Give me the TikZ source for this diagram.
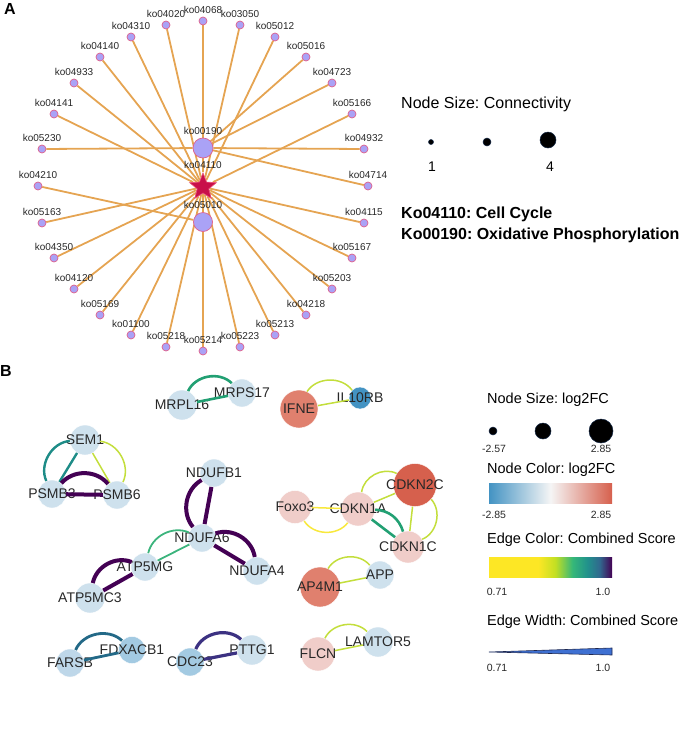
\documentclass[tikz,border=0pt]{standalone}
\usepackage{fontspec}
\setmainfont{Liberation Sans}
\usetikzlibrary{shapes.geometric,backgrounds}
\frenchspacing

\definecolor{pathedge}{RGB}{229,164,82}
\definecolor{pathfill}{RGB}{170,162,246}
\definecolor{pathrim}{RGB}{222,96,140}
\definecolor{starfill}{RGB}{200,16,74}
\definecolor{starrim}{RGB}{232,80,120}
\definecolor{inktext}{RGB}{40,40,40}
\definecolor{genelight}{RGB}{206,225,237}
\definecolor{genesky}{RGB}{190,215,233}
\definecolor{genemid}{RGB}{163,202,226}
\definecolor{genedeep}{RGB}{67,147,195}
\definecolor{geneblush}{RGB}{240,205,201}
\definecolor{generose}{RGB}{224,128,110}
\definecolor{genered}{RGB}{214,96,77}
\definecolor{neutralmid}{RGB}{245,245,245}
\definecolor{vyel}{RGB}{253,231,37}
\definecolor{vlime}{RGB}{194,223,35}
\definecolor{vgreen}{RGB}{53,183,121}
\definecolor{vteal}{RGB}{33,145,140}
\definecolor{vblue}{RGB}{49,104,142}
\definecolor{vpurp}{RGB}{68,1,84}
\definecolor{wedgefill}{RGB}{62,112,210}

\pgfdeclarehorizontalshading{viridisbar}{100bp}{color(0bp)=(vyel); color(25bp)=(vyel); color(45bp)=(vyel); color(52bp)=(vlime); color(59bp)=(vgreen); color(65bp)=(vteal); color(70bp)=(vblue); color(75bp)=(vpurp); color(100bp)=(vpurp)}
\pgfdeclarehorizontalshading{foldbar}{100bp}{color(0bp)=(genedeep); color(25bp)=(genedeep); color(50bp)=(neutralmid); color(75bp)=(genered); color(100bp)=(genered)}

\tikzset{
  every label/.style={font=\fontsize{10}{12}\selectfont,text=inktext,inner sep=3.3pt},
  kegg/.style={shape=circle,draw=pathrim,fill=pathfill,line width=0.7pt,minimum size=8pt,inner sep=0pt,label distance=-1.5pt},
  hub/.style={kegg,minimum size=20pt,label distance=-1pt},
  cellcycle/.style={shape=star,star points=5,star point ratio=2.3,minimum size=28pt,inner sep=0pt,fill=starfill,draw=starrim,line width=0.7pt},
  link/.style={draw=pathedge,line width=1.8pt},
  gene/.style={shape=circle,draw=white,line width=0.4pt,inner sep=0pt},
  genelabel/.style={font=\fontsize{14}{16}\selectfont,text=inktext,inner sep=0pt},
  scoretop/.style={draw=vpurp,line width=4pt},
  scoredeep/.style={draw={rgb,255:red,60;green,50;blue,130},line width=3.2pt},
  scoreblue/.style={draw={rgb,255:red,35;green,105;blue,135},line width=2.8pt},
  scoreteal/.style={draw={rgb,255:red,30;green,140;blue,135},line width=2.4pt},
  scoregreen/.style={draw={rgb,255:red,34;green,160;blue,115},line width=2.6pt},
  scorelight/.style={draw={rgb,255:red,60;green,180;blue,125},line width=1.8pt},
  scorelime/.style={draw={rgb,255:red,195;green,222;blue,60},line width=1.5pt},
  scoreyellow/.style={draw={rgb,255:red,248;green,232;blue,60},line width=1.5pt},
  legendtitle/.style={anchor=west,inner sep=0pt,font=\fontsize{14.5}{17}\selectfont},
  legendbig/.style={anchor=west,inner sep=0pt,font=\fontsize{16}{19}\selectfont},
  legendtick/.style={inner sep=0pt,font=\fontsize{10.5}{12}\selectfont,text=inktext},
  sizedot/.style={shape=circle,fill=black,draw={rgb,255:red,20;green,40;blue,70},line width=0.5pt,inner sep=0pt},
  panel/.style={inner sep=0pt,font=\fontsize{16}{19}\selectfont\bfseries}
}

\begin{document}
\begin{tikzpicture}[x=1pt,y=-1pt]
	\useasboundingbox (0,0) rectangle (685,729);

	% panel A
	\node[panel] (panela) at (10, 9) {A};

	\node[hub] (ko00190) at (203, 148) [label={above:ko00190}] {};
	\node[hub,minimum size=19pt,label distance=-2.5pt] (ko05010) at (203, 222) [label={above:ko05010}] {};
	\node[cellcycle] (ko04110) at (203, 187) [label={above:ko04110}] {};

	\node[kegg] (ko04068) at (203, 21)  [label={above:ko04068}] {};
	\node[kegg] (ko04020) at (166, 25)  [label={above:ko04020}] {};
	\node[kegg] (ko04310) at (131, 37)  [label={above:ko04310}] {};
	\node[kegg] (ko04140) at (100, 57)  [label={above:ko04140}] {};
	\node[kegg] (ko04933) at (74, 83)   [label={above:ko04933}] {};
	\node[kegg] (ko04141) at (54, 114)  [label={above:ko04141}] {};
	\node[kegg] (ko05230) at (42, 149)  [label={above:ko05230}] {};
	\node[kegg] (ko04210) at (38, 186)  [label={above:ko04210}] {};
	\node[kegg] (ko05163) at (42, 223)  [label={above:ko05163}] {};
	\node[kegg] (ko04350) at (54, 258)  [label={above:ko04350}] {};
	\node[kegg] (ko04120) at (74, 289)  [label={above:ko04120}] {};
	\node[kegg] (ko05169) at (100, 315) [label={above:ko05169}] {};
	\node[kegg] (ko01100) at (131, 335) [label={above:ko01100}] {};
	\node[kegg] (ko05218) at (166, 347) [label={above:ko05218}] {};
	\node[kegg] (ko05214) at (203, 351) [label={above:ko05214}] {};
	\node[kegg] (ko05223) at (240, 347) [label={above:ko05223}] {};
	\node[kegg] (ko05213) at (275, 335) [label={above:ko05213}] {};
	\node[kegg] (ko04218) at (306, 315) [label={above:ko04218}] {};
	\node[kegg] (ko05203) at (332, 289) [label={above:ko05203}] {};
	\node[kegg] (ko05167) at (352, 258) [label={above:ko05167}] {};
	\node[kegg] (ko04115) at (364, 223) [label={above:ko04115}] {};
	\node[kegg] (ko04714) at (368, 186) [label={above:ko04714}] {};
	\node[kegg] (ko04932) at (364, 149) [label={above:ko04932}] {};
	\node[kegg] (ko05166) at (352, 114) [label={above:ko05166}] {};
	\node[kegg] (ko04723) at (332, 83)  [label={above:ko04723}] {};
	\node[kegg] (ko05016) at (306, 57)  [label={above:ko05016}] {};
	\node[kegg] (ko05012) at (275, 37)  [label={above:ko05012}] {};
	\node[kegg] (ko03050) at (240, 25)  [label={above:ko03050}] {};

	\begin{scope}[on background layer]
	\path[link] (ko04110) edge (ko00190) edge (ko05010)
		edge (ko04020) edge (ko03050) edge (ko04310) edge (ko05012)
		edge (ko04140) edge (ko04933) edge (ko04141) edge (ko05166)
		edge (ko05163) edge (ko04115) edge (ko04350) edge (ko05167)
		edge (ko04120) edge (ko05203) edge (ko05169) edge (ko04218)
		edge (ko01100) edge (ko05213) edge (ko05218) edge (ko05223);
	\path[link] (ko00190) edge (ko04068) edge (ko05230) edge (ko04932)
		edge (ko04714) edge (ko05016) edge (ko04723);
	\path[link] (ko05010) edge (ko05214) edge (ko04210);
	\end{scope}

	% legend A
	\node[legendbig] (connectivity) at (401, 104) {Node Size: Connectivity};
	\node[sizedot,minimum size=5pt]  (connone) at (431, 142) {};
	\node[sizedot,minimum size=8pt]  (conntwo) at (487, 142) {};
	\node[sizedot,minimum size=16pt] (connfour) at (548, 140) {};
	\node[inner sep=0pt,font=\fontsize{14}{16}\selectfont] (connlow) at (432, 167) {1};
	\node[inner sep=0pt,font=\fontsize{14}{16}\selectfont] (connhigh) at (550, 167) {4};
	\node[legendbig,font=\fontsize{16}{19}\selectfont\bfseries] (keycycle) at (401, 214) {Ko04110: Cell Cycle};
	\node[legendbig,font=\fontsize{16}{19}\selectfont\bfseries] (keyoxphos) at (401, 235) {Ko00190: Oxidative Phosphorylation};

	% panel B
	\node[panel] (panelb) at (6, 371) {B};

	\node[gene,fill=genelight,minimum size=30pt] (mrpl16) at (182, 405) [label={[genelabel]center:MRPL16}] {};
	\node[gene,fill=genelight,minimum size=28pt] (mrps17) at (242, 393) [label={[genelabel]center:MRPS17}] {};
	\node[gene,fill=generose,minimum size=38pt] (ifne) at (299, 409) [label={[genelabel]center:IFNE}] {};
	\node[gene,fill=genedeep,minimum size=22pt] (il10rb) at (360, 398) [label={[genelabel]center:IL10RB}] {};

	\node[gene,fill=genelight,minimum size=30pt] (sem1) at (85, 440) [label={[genelabel]center:SEM1}] {};
	\node[gene,fill=genelight,minimum size=28pt] (psmb3) at (52, 494) [label={[genelabel]center:PSMB3}] {};
	\node[gene,fill=genelight,minimum size=28pt] (psmb6) at (117, 495) [label={[genelabel]center:PSMB6}] {};

	\node[gene,fill=genelight,minimum size=28pt] (ndufb1) at (214, 473) [label={[genelabel]center:NDUFB1}] {};
	\node[gene,fill=genelight,minimum size=28pt] (ndufa6) at (202, 538) [label={[genelabel]center:NDUFA6}] {};
	\node[gene,fill=genelight,minimum size=28pt] (atp5mg) at (145, 567) [label={[genelabel]center:ATP5MG}] {};
	\node[gene,fill=genelight,minimum size=30pt] (atp5mc3) at (90, 598) [label={[genelabel]center:ATP5MC3}] {};
	\node[gene,fill=genelight,minimum size=28pt] (ndufa4) at (257, 571) [label={[genelabel]center:NDUFA4}] {};

	\node[gene,fill=geneblush,minimum size=33pt] (foxo3) at (295, 507) [label={[genelabel]center:Foxo3}] {};
	\node[gene,fill=geneblush,minimum size=34pt] (cdkn1a) at (358, 509) [label={[genelabel]center:CDKN1A}] {};
	\node[gene,fill=genered,minimum size=43pt] (cdkn2c) at (415, 485) [label={[genelabel]center:CDKN2C}] {};
	\node[gene,fill=geneblush,minimum size=32pt] (cdkn1c) at (408, 547) [label={[genelabel]center:CDKN1C}] {};

	\node[gene,fill=generose,minimum size=40pt] (ap4m1) at (320, 587) [label={[genelabel]center:AP4M1}] {};
	\node[gene,fill=genelight,minimum size=28pt] (app) at (380, 575) [label={[genelabel]center:APP}] {};

	\node[gene,fill=genesky,minimum size=28pt] (farsb) at (70, 663) [label={[genelabel]center:FARSB}] {};
	\node[gene,fill=genemid,minimum size=27pt] (fdxacb1) at (132, 650) [label={[genelabel]center:FDXACB1}] {};
	\node[gene,fill=genemid,minimum size=28pt] (cdc23) at (190, 662) [label={[genelabel]center:CDC23}] {};
	\node[gene,fill=genelight,minimum size=30pt] (pttg1) at (252, 650) [label={[genelabel]center:PTTG1}] {};
	\node[gene,fill=geneblush,minimum size=34pt] (flcn) at (318, 654) [label={[genelabel]center:FLCN}] {};
	\node[gene,fill=genelight,minimum size=30pt] (lamtor5) at (378, 642) [label={[genelabel]center:LAMTOR5}] {};

	\path[scoregreen]  (mrpl16) edge (mrps17) edge[bend left=55] (mrps17);
	\path[scorelime]   (ifne) edge (il10rb) edge[bend left=55] (il10rb);
	\path[scoreteal]   (sem1) edge (psmb3) edge[bend right=55] (psmb3);
	\path[scorelime]   (sem1) edge (psmb6) edge[bend left=55] (psmb6);
	\path[scoretop]    (psmb3) edge (psmb6) edge[bend left=50] (psmb6);
	\path[scoretop]    (ndufb1) edge (ndufa6) edge[bend right=50] (ndufa6);
	\path[scorelight]  (atp5mg) edge (ndufa6) edge[bend left=50] (ndufa6);
	\path[scoretop]    (ndufa6) edge (ndufa4) edge[bend left=50] (ndufa4);
	\path[scoretop]    (atp5mc3) edge (atp5mg) edge[bend left=50] (atp5mg);
	\path[scoreyellow] (foxo3) edge (cdkn1a) edge[bend right=55] (cdkn1a);
	\path[scorelime]   (cdkn1a) edge (cdkn2c) edge[bend left=55] (cdkn2c);
	\path[scoregreen]  (cdkn1a) edge (cdkn1c) edge[bend left=35] (cdkn1c);
	\path[scorelime]   (cdkn2c) edge (cdkn1c) edge[bend left=55] (cdkn1c);
	\path[scorelime]   (ap4m1) edge (app) edge[bend left=55] (app);
	\path[scoreblue]   (farsb) edge (fdxacb1) edge[bend left=55] (fdxacb1);
	\path[scoredeep]   (cdc23) edge (pttg1) edge[bend left=55] (pttg1);
	\path[scorelime]   (flcn) edge (lamtor5) edge[bend left=55] (lamtor5);

	% legend B
	\node[legendtitle] (sizetitle) at (487, 400) {Node Size: log2FC};
	\node[sizedot,minimum size=8pt]  (sizelow) at (493, 431) {};
	\node[sizedot,minimum size=16pt] (sizemid) at (543, 431) {};
	\node[sizedot,minimum size=24pt] (sizehigh) at (601, 431) {};
	\node[legendtick] (sizelowtick) at (494, 449) {-2.57};
	\node[legendtick] (sizehightick) at (601, 449) {2.85};

	\node[legendtitle] (colortitle) at (487, 470) {Node Color: log2FC};
	\shade[shading=foldbar] (489, 483) rectangle (612, 503);
	\node[legendtick] (colorlowtick) at (494, 515) {-2.85};
	\node[legendtick] (colorhightick) at (601, 515) {2.85};

	\node[legendtitle] (edgetitle) at (487, 540) {Edge Color: Combined Score};
	\shade[shading=viridisbar] (489, 557) rectangle (612, 577);
	\node[legendtick] (edgelowtick) at (497, 592) {0.71};
	\node[legendtick] (edgehightick) at (603, 592) {1.0};

	\node[legendtitle] (widthtitle) at (487, 622) {Edge Width: Combined Score};
	\filldraw[fill=wedgefill,draw={rgb,255:red,30;green,40;blue,80},line width=0.6pt] (489, 652) -- (612, 648) -- (612, 655) -- cycle;
	\node[legendtick] (widthlowtick) at (497, 668) {0.71};
	\node[legendtick] (widthhightick) at (603, 668) {1.0};
\end{tikzpicture}
\end{document}
